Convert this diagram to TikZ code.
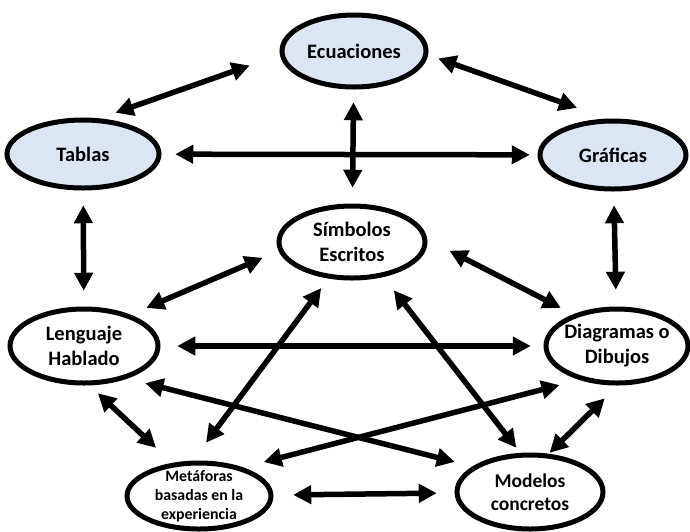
\documentclass[tikz,border=0pt]{standalone}
\usepackage{fontspec}
\setmainfont{Carlito}
\usetikzlibrary{shapes.geometric,arrows.meta}
\definecolor{bluefill}{HTML}{DCE6F2}
\tikzset{
  ell/.style={ellipse, draw=black, line width=5pt, inner sep=-6pt, fill=white,
              font=\fontsize{20.5}{25}\selectfont\bfseries, align=center},
  bluenode/.style={fill=bluefill},
  arr/.style={line width=5.5pt, {Triangle[length=18pt,width=18pt]}-{Triangle[length=18pt,width=18pt]}}
}
\begin{document}
\begin{tikzpicture}[x=1pt,y=-1pt]
\useasboundingbox (0,0) rectangle (690,531);
\node[ell, bluenode, minimum width=144pt, minimum height=72pt] (ecu) at (354,51) {Ecuaciones};
\node[ell, bluenode, minimum width=152pt, minimum height=68pt] (tab) at (83,154) {Tablas};
\node[ell, bluenode, minimum width=146pt, minimum height=68pt] (gra) at (613,155) {Gráficas};
\node[ell, minimum width=146pt, minimum height=72pt] (sim) at (352,242) {Símbolos\\Escritos};
\node[ell, minimum width=148pt, minimum height=74pt] (len) at (84,346) {Lenguaje\\Hablado};
\node[ell, minimum width=142pt, minimum height=74pt] (dia) at (617,346) {Diagramas o\\Dibujos};
\node[ell, minimum width=144pt, minimum height=66pt, font=\fontsize{15.8}{19}\selectfont\bfseries] (met) at (199,496) {Metáforas\\basadas en la\\experiencia};
\node[ell, minimum width=146pt, minimum height=74pt, font=\fontsize{19.5}{23}\selectfont\bfseries] (mod) at (530,492) {Modelos\\concretos};

\draw[arr, shorten <=32pt, shorten >=16.8pt] (ecu.183.5) -- (tab.65.6);
\draw[arr, shorten <=10.7pt, shorten >=32.1pt] (ecu.357.4) -- (gra.99.1);
\draw[arr, shorten <=13.75pt, shorten >=7.75pt] (tab) -- (gra);
\draw[arr, shorten <=12.75pt, shorten >=15.75pt] (ecu) -- (sim);
\draw[arr, shorten <=14.75pt, shorten >=15.75pt] (tab) -- (len);
\draw[arr, shorten <=13.75pt, shorten >=16.75pt] (gra) -- (dia);
\draw[arr, shorten <=17.3pt, shorten >=17.2pt] (sim.187.2) -- (len.34.1);
\draw[arr, shorten <=24.8pt, shorten >=14pt] (sim.2.6) -- (dia.144.1);
\draw[arr, shorten <=16.75pt, shorten >=12.75pt] (len) -- (dia);
\draw[arr, shorten <=18.6pt, shorten >=18.3pt] (len.323.0) -- (mod.156.0);
\draw[arr, shorten <=21.4pt, shorten >=20.6pt] (met.33.5) -- (dia.222.4);
\draw[arr, shorten <=11.4pt, shorten >=22pt] (len.278.3) -- (met.129.4);
\draw[arr, shorten <=22.3pt, shorten >=11.9pt] (met.100.3) -- (sim.237.9);
\draw[arr, shorten <=6.4pt, shorten >=16.8pt] (mod.104.5) -- (sim.312.4);
\draw[arr, shorten <=1.3pt, shorten >=18.2pt] (mod.64.6) -- (dia.271.4);
\draw[arr, shorten <=19.75pt, shorten >=17.75pt] (met) -- (mod);
\end{tikzpicture}
\end{document}
